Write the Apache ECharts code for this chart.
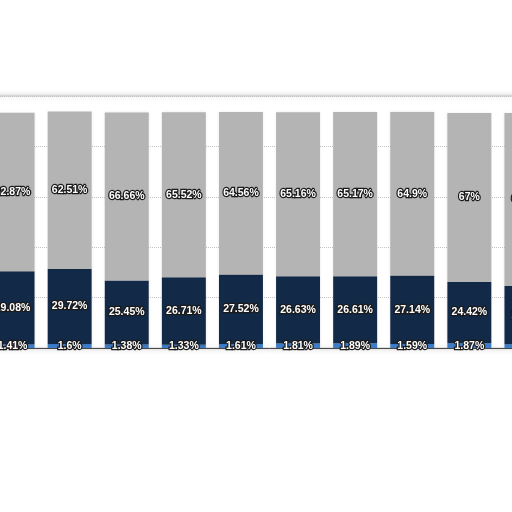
<!DOCTYPE html>
<html>
<head>
<meta charset="utf-8">
<script src="https://cdn.jsdelivr.net/npm/echarts@6/dist/echarts.min.js"></script>
<style>
  html, body { margin: 0; padding: 0; background: #fff; overflow: hidden; }
  /* 图表比窗口宽，首尾两根柱子只露出一部分 */
  #chart { position: absolute; left: -16px; top: 0; width: 571px; height: 512px; }
</style>
</head>
<body>
<div id="chart"></div>
<script>
  // 分类（坐标轴标签不可见）
  const categories = ['1', '2', '3', '4', '5', '6', '7', '8', '9', '10']
  // 三个堆叠系列，单位 %
  const blueValues = [1.41, 1.6, 1.38, 1.33, 1.61, 1.81, 1.89, 1.59, 1.87, 1.5]
  const navyValues = [29.08, 29.72, 25.45, 26.71, 27.52, 26.63, 26.61, 27.14, 24.42, 23.2]
  const grayValues = [62.87, 62.51, 66.66, 65.52, 64.56, 65.16, 65.17, 64.9, 67, 68.6]
  const yTicks = [0, 20, 40, 60, 80, 100]

  const labelStyle = {
    show: true,
    position: 'inside',
    color: '#fff',
    fontFamily: 'Liberation Sans',
    fontWeight: 'bold',
    fontSize: 10.5,
    textBorderColor: '#1a1a1a',
    textBorderWidth: 2.5,
    formatter: p => p.value + '%'
  }

  const barShadow = {
    shadowColor: 'rgba(0,0,0,0.12)',
    shadowBlur: 3
  }

  function makeSeries(name, data, color) {
    return {
      name: name,
      type: 'bar',
      stack: 'total',
      data: data,
      barCategoryGap: '23%',
      itemStyle: { color: color, ...barShadow },
      label: labelStyle
    }
  }

  const myChart = echarts.init(document.getElementById('chart'))
  myChart.setOption({
    animation: false,
    grid: {
      left: 0,
      right: 0,
      top: 96,
      bottom: 164,
      show: true,
      backgroundColor: '#fff',
      borderColor: '#c8c8c8',
      borderWidth: 1,
      shadowColor: 'rgba(0,0,0,0.2)',
      shadowBlur: 6
    },
    xAxis: {
      type: 'category',
      data: categories,
      axisLine: { lineStyle: { color: '#4a4a4a', width: 1 } },
      axisTick: { show: false },
      axisLabel: { show: false }
    },
    yAxis: {
      type: 'value',
      min: yTicks[0],
      max: yTicks[yTicks.length - 1],
      interval: yTicks[1] - yTicks[0],
      axisLine: { show: false },
      axisTick: { show: false },
      axisLabel: { show: false },
      splitLine: { lineStyle: { color: '#c4c4c4', type: 'dotted', width: 1 } }
    },
    series: [
      makeSeries('blue', blueValues, '#3d7cc9'),
      makeSeries('navy', navyValues, '#122a47'),
      makeSeries('gray', grayValues, '#b4b4b4')
    ]
  })
</script>
</body>
</html>
